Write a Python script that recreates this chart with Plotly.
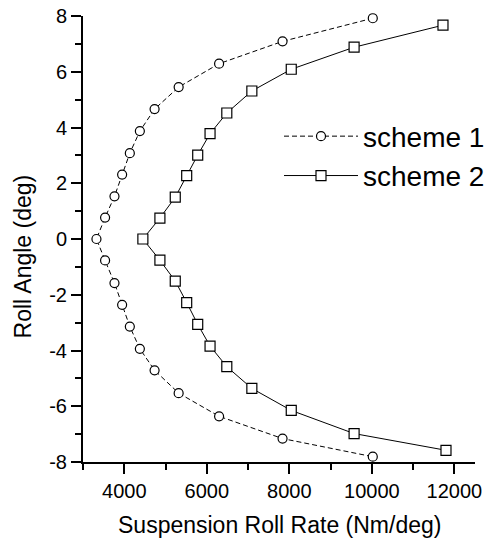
import plotly.graph_objects as go

# Scheme 1 (circles, dashed)
s1_rate = [10023, 7836, 6298, 5318, 4735, 4378, 4135, 3948, 3763, 3535, 3326,
           3535, 3763, 3948, 4135, 4378, 4735, 5318, 6298, 7836, 10023]
s1_angle = [7.92, 7.09, 6.29, 5.45, 4.66, 3.87, 3.08, 2.31, 1.53, 0.77, 0.0,
            -0.77, -1.58, -2.36, -3.14, -3.94, -4.71, -5.53, -6.36, -7.16, -7.81]

# Scheme 2 (squares, solid)
s2_rate = [11724, 9570, 8047, 7092, 6485, 6079, 5780, 5513, 5236, 4864, 4451,
           4864, 5236, 5513, 5780, 6079, 6485, 7092, 8047, 9570, 11797]
s2_angle = [7.67, 6.88, 6.09, 5.31, 4.52, 3.78, 3.01, 2.27, 1.50, 0.75, 0.0,
            -0.76, -1.51, -2.28, -3.06, -3.84, -4.58, -5.36, -6.15, -6.98, -7.58]

x_ticks = [4000, 6000, 8000, 10000, 12000]
x_labels = ["4000", "6000", "8000", "10000", "12000"]
y_ticks = [-8, -6, -4, -2, 0, 2, 4, 6, 8]
y_labels = ["-8", "-6", "-4", "-2", "0", "2", "4", "6", "8"]

FONT = "Liberation Sans, Arimo, Arial, sans-serif"

fig = go.Figure()
fig.add_trace(go.Scatter(
    x=s1_rate, y=s1_angle, mode="lines+markers", name="scheme 1",
    line=dict(color="black", width=1, dash="5px,3px"),
    marker=dict(symbol="circle", size=9, color="white",
                line=dict(color="black", width=1.2)),
    cliponaxis=False,
))
fig.add_trace(go.Scatter(
    x=s2_rate, y=s2_angle, mode="lines+markers", name="scheme 2",
    line=dict(color="black", width=1),
    marker=dict(symbol="square", size=10, color="white",
                line=dict(color="black", width=1.2)),
    cliponaxis=False,
))

axis_common = dict(
    showgrid=False, zeroline=False, showline=True, linecolor="black", linewidth=2,
    ticks="outside", ticklen=10, tickwidth=2, tickcolor="black",
    tickfont=dict(family=FONT, size=20, color="black"),
    mirror=False, automargin=False,
)
fig.update_xaxes(range=[3000, 12500], tickvals=x_ticks, ticktext=x_labels,
                 minor=dict(ticks="outside", ticklen=6, tickwidth=2, tickcolor="black", dtick=1000, tick0=3000),
                 **axis_common)
fig.update_yaxes(range=[-8, 8], tickvals=y_ticks, ticktext=y_labels,
                 minor=dict(ticks="outside", ticklen=6, tickwidth=2, tickcolor="black", dtick=1, tick0=-8),
                 **axis_common)

fig.add_annotation(text="Roll Angle (deg)", xref="paper", yref="paper",
                   x=-0.153, y=0.461, textangle=-90, showarrow=False,
                   font=dict(family=FONT, size=23, color="black"),
                   xanchor="center", yanchor="middle")
fig.add_annotation(text="Suspension Roll Rate (Nm/deg)", xref="paper", yref="paper",
                   x=0.5, y=-0.142, showarrow=False,
                   font=dict(family=FONT, size=23, color="black"),
                   xanchor="center", yanchor="middle")

fig.update_layout(
    width=490, height=546,
    margin=dict(l=83, r=15, t=16, b=84, autoexpand=False),
    paper_bgcolor="white", plot_bgcolor="white",
    showlegend=True,
    legend=dict(x=0.50, y=0.786, xanchor="left", yanchor="top",
                bgcolor="rgba(0,0,0,0)", itemwidth=74,
                font=dict(family=FONT, size=28, color="black"),
                tracegroupgap=0),
)

fig.write_html("out.html")
